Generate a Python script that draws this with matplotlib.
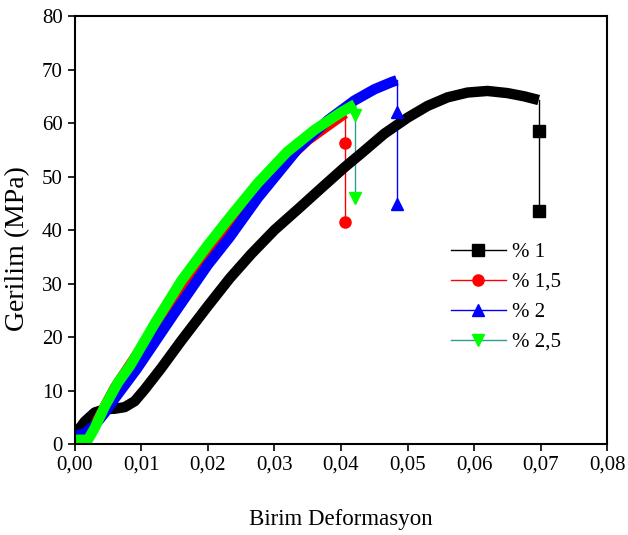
import matplotlib.pyplot as plt
from matplotlib.lines import Line2D
from matplotlib.ticker import FuncFormatter

# strain / stress curves
x_1 = [0.0, 0.0015, 0.003, 0.0045, 0.006, 0.0075, 0.009, 0.0105, 0.013, 0.016, 0.02, 0.0233,
       0.0265, 0.03, 0.0338, 0.037, 0.0406, 0.0433, 0.0465, 0.05, 0.053, 0.056, 0.059, 0.062,
       0.065, 0.0675, 0.0697]
y_1 = [1.7, 4.2, 5.9, 6.5, 6.6, 6.9, 8.0, 10.2, 14.2, 19.3, 25.8, 31.0,
       35.5, 40.0, 44.2, 47.8, 51.8, 54.6, 58.0, 61.0, 63.2, 64.8, 65.7, 66.0,
       65.6, 65.0, 64.3]
x_15 = [0.0, 0.0015, 0.003, 0.0045, 0.006, 0.01, 0.015, 0.02, 0.025, 0.03, 0.035, 0.038, 0.0406]
y_15 = [1.0, 1.5, 3.5, 7.0, 10.5, 18.0, 27.5, 36.5, 44.0, 51.0, 56.8, 59.5, 61.8]
x_2 = [0.0, 0.0015, 0.003, 0.0045, 0.006, 0.0093, 0.015, 0.02, 0.0233, 0.0275, 0.0334, 0.038,
       0.042, 0.045, 0.0475, 0.0484]
y_2 = [1.5, 2.0, 3.5, 5.8, 8.5, 14.0, 24.5, 33.5, 38.7, 46.0, 55.0, 60.5, 64.2, 66.3, 67.6, 68.0]
x_25 = [0.0, 0.002, 0.003, 0.0045, 0.0065, 0.0083, 0.012, 0.016, 0.02, 0.0233, 0.0275, 0.0319,
        0.036, 0.04, 0.0421]
y_25 = [0.8, 0.8, 3.0, 7.0, 11.5, 14.6, 22.5, 30.5, 37.2, 42.4, 48.8, 54.6, 58.7, 62.0, 63.5]

# points after fracture
drop_1 = [58.5, 43.5]
drop_15 = [56.2, 41.5]
drop_2 = [62.0, 44.8]
drop_25 = [61.5, 46.0]

labels = ['% 1', '% 1,5', '% 2', '% 2,5']

plt.rcParams['font.family'] = ['Liberation Serif', 'DejaVu Serif']

fig = plt.figure(figsize=(6.28, 5.35), dpi=100)
ax = fig.add_axes([0.119, 0.170, 0.848, 0.800])

series = [
    (x_1, y_1, drop_1, 'black', 'black', 's'),
    (x_15, y_15, drop_15, 'red', 'red', 'o'),
    (x_2, y_2, drop_2, 'blue', 'blue', '^'),
    (x_25, y_25, drop_25, '#00ff00', '#2e9c94', 'v'),
]

# thin drop line after fracture, with the two markers
for xs, ys, drop, col, lcol, mk in series:
    xe = xs[-1]
    ax.plot([xe] * 3, [ys[-1]] + drop, color=lcol, lw=1.0, zorder=1)
    ax.plot([xe] * 2, drop, ls='none', marker=mk, color=col, ms=8, zorder=3)

for xs, ys, drop, col, lcol, mk in series:
    ax.plot(xs, ys, color=col, lw=7.5, solid_capstyle='butt', solid_joinstyle='round', zorder=2)

ax.set_xlim(0, 0.08)
ax.set_ylim(0, 80)
ax.set_xticks([i * 0.01 for i in range(9)])
ax.set_yticks(range(0, 81, 10))
ax.xaxis.set_major_formatter(FuncFormatter(lambda v, p: f'{v:.2f}'.replace('.', ',')))
ax.tick_params(direction='out', length=5, width=1.2, labelsize=15)
for s in ax.spines.values():
    s.set_linewidth(1.5)

fig.text(341 / 628, 1 - 519 / 535, 'Birim Deformasyon', fontsize=16.5, ha='center', va='center')
fig.text(18 / 628, 1 - 249 / 535, 'Gerilim (MPa)', fontsize=20, ha='center', va='center',
         rotation=90)

handles = []
for xs, ys, drop, col, lcol, mk in series:
    handles.append(Line2D([], [], color=lcol, lw=1.0, marker=mk, mfc=col, mec=col, ms=8))
ax.legend(handles, labels, loc='upper left', bbox_to_anchor=(0.672, 0.515), frameon=False,
          fontsize=15, handlelength=2.6, labelspacing=0.5, handletextpad=0.3)

fig.savefig('out.png', dpi=100)
